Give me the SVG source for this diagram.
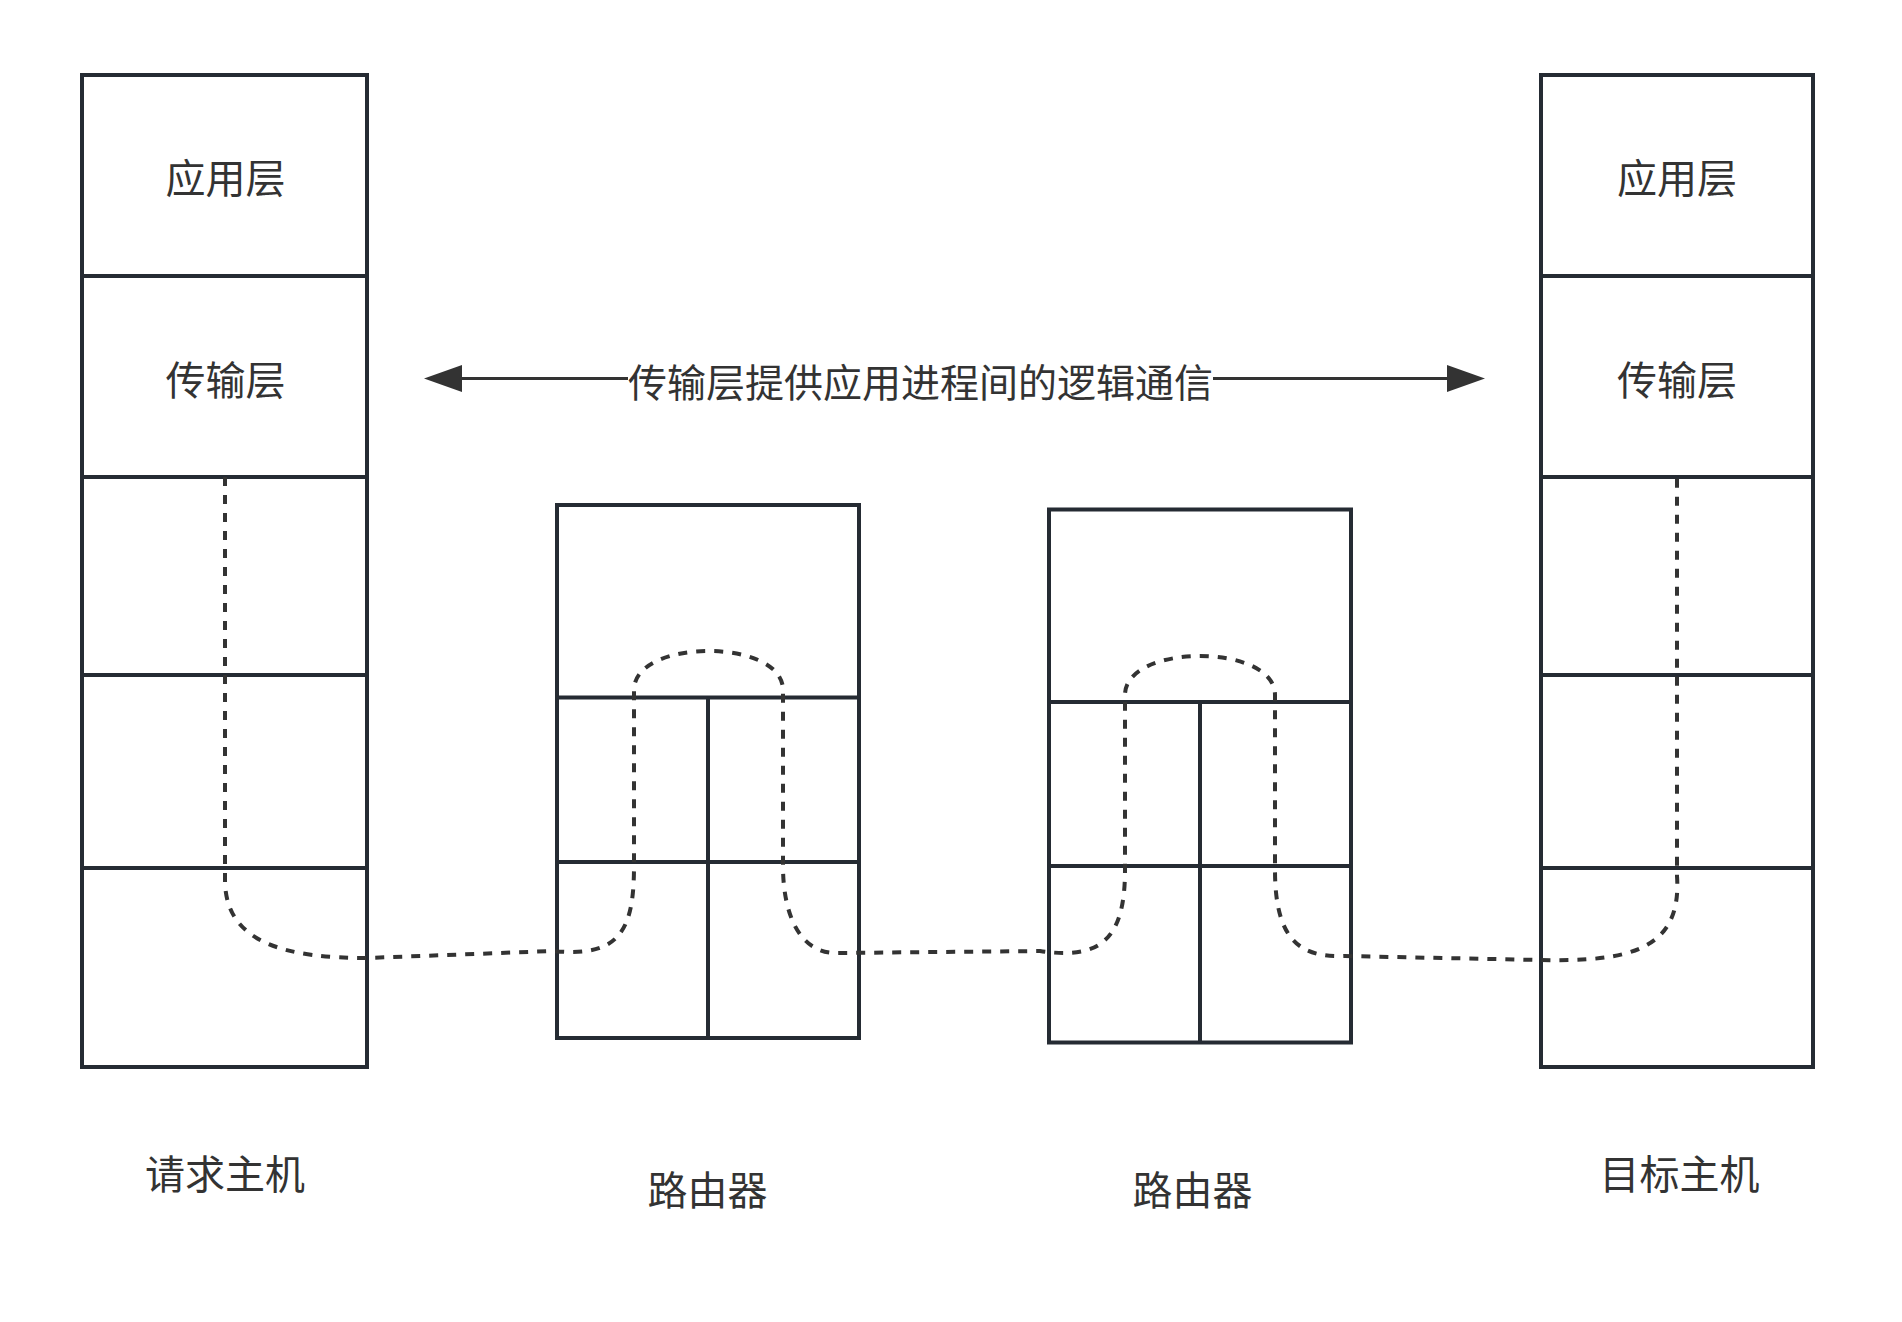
<svg xmlns="http://www.w3.org/2000/svg" width="1902" height="1322" viewBox="0 0 1902 1322">
  <style>
    .box { fill: #ffffff; stroke: #252b33; stroke-width: 4; }
    .div { fill: none; stroke: #252b33; stroke-width: 4; }
    .lbl { font-family: "Noto Sans CJK SC", "Noto Sans", sans-serif; font-size: 40px; fill: #333333; text-anchor: middle; dominant-baseline: central; }
    .lbl2 { font-size: 39px; }
    .dash { fill: none; stroke: #333333; stroke-width: 4; stroke-dasharray: 9 9; }
    .arrow { fill: none; stroke: #333333; stroke-width: 3; }
  </style>
  <defs>
    <marker id="head" markerUnits="userSpaceOnUse" markerWidth="40" markerHeight="28" refX="1" refY="13.5" orient="auto-start-reverse">
      <path d="M0,0 L38,13.5 L0,27 Z" fill="#333333"/>
    </marker>
  </defs>
  <rect width="1902" height="1322" fill="#ffffff"/>

  <g id="host-left">
    <rect class="box" x="82" y="75" width="285" height="992"/>
    <path class="div" d="M82,276 H367 M82,477 H367 M82,675 H367 M82,868 H367"/>
    <text class="lbl" x="225.5" y="176">应用层</text>
    <text class="lbl" x="225.5" y="378">传输层</text>
  </g>

  <g id="router-1">
    <rect class="box" x="557" y="505" width="302" height="533"/>
    <path class="div" d="M557,697.5 H859 M557,862 H859 M708,697.5 V1038"/>
  </g>

  <g id="router-2">
    <rect class="box" x="1049" y="509.5" width="302" height="533"/>
    <path class="div" d="M1049,702 H1351 M1049,866 H1351 M1200,702 V1042.5"/>
  </g>

  <g id="host-right">
    <rect class="box" x="1541" y="75" width="272" height="992"/>
    <path class="div" d="M1541,276 H1813 M1541,477 H1813 M1541,675 H1813 M1541,868 H1813"/>
    <text class="lbl" x="1677" y="176">应用层</text>
    <text class="lbl" x="1677" y="378">传输层</text>
  </g>

  <g id="connectors">
    <path class="dash" d="M225,477 L225,880 C225,945 290,958 367,958 L553,951 C620,958 634,930 634,866 L634,690 C634,638 783,638 783,690 L783,866 C783,915 800,953 836,953 L1040,951 C1100,960 1125,940 1125,870 L1125,695 C1125,643 1275,643 1275,695 L1275,870 C1275,940 1300,958 1345,956 L1540,960 C1630,962 1682,950 1677,876 L1677,477"/>
    <path class="arrow" d="M461,378.5 L1448,378.5" marker-start="url(#head)" marker-end="url(#head)"/>
    <rect x="628" y="356" width="585" height="46" fill="#ffffff"/>
    <text class="lbl lbl2" x="920.5" y="379.5">传输层提供应用进程间的逻辑通信</text>
  </g>

  <g id="labels">
    <text class="lbl" x="225" y="1172">请求主机</text>
    <text class="lbl" x="707.5" y="1188">路由器</text>
    <text class="lbl" x="1192.5" y="1188">路由器</text>
    <text class="lbl" x="1679.5" y="1172">目标主机</text>
  </g>
</svg>
